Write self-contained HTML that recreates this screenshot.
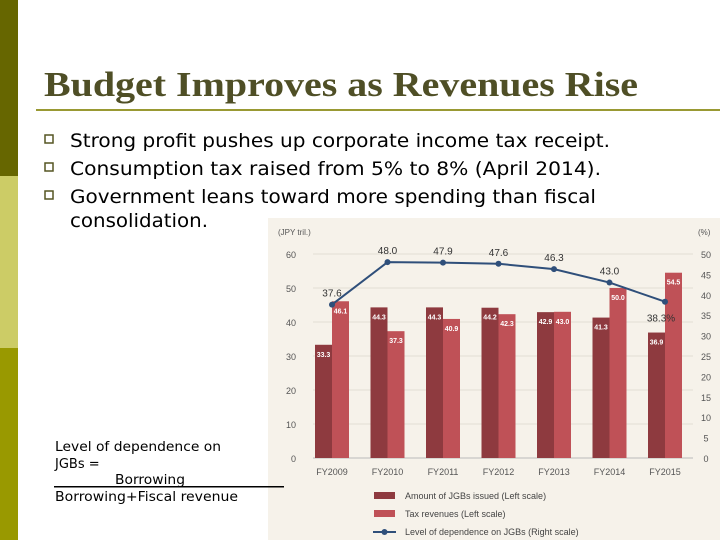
<!DOCTYPE html>
<html><head><meta charset="utf-8"><style>
html,body{margin:0;padding:0;background:#fff}
svg{display:block}
text{font-family:"Liberation Sans",sans-serif}
</style></head><body>
<svg id="s" width="720" height="540" viewBox="0 0 720 540" xmlns="http://www.w3.org/2000/svg">
<rect x="0" y="0" width="18" height="176" fill="#666600"/>
<rect x="0" y="176" width="18" height="172" fill="#cccc66"/>
<rect x="0" y="348" width="18" height="192" fill="#999900"/>
<text x="44" y="96" font-size="35" font-weight="bold" fill="#4f4f26" style="font-family:'Liberation Serif',serif" textLength="594" lengthAdjust="spacingAndGlyphs">Budget Improves as Revenues Rise</text>
<rect x="36" y="109" width="684" height="2" fill="#999933"/>
<g font-size="19" fill="#000" style="font-family:'DejaVu Sans',sans-serif">
<rect x="45" y="135" width="8" height="8" fill="none" stroke="#555522" stroke-width="1.5"/>
<text x="70" y="147" textLength="540" lengthAdjust="spacingAndGlyphs" style="font-family:'DejaVu Sans',sans-serif">Strong profit pushes up corporate income tax receipt.</text>
<rect x="45" y="163" width="8" height="8" fill="none" stroke="#555522" stroke-width="1.5"/>
<text x="70" y="175" textLength="531" lengthAdjust="spacingAndGlyphs" style="font-family:'DejaVu Sans',sans-serif">Consumption tax raised from 5% to 8% (April 2014).</text>
<rect x="45" y="191" width="8" height="8" fill="none" stroke="#555522" stroke-width="1.5"/>
<text x="70" y="203" textLength="526" lengthAdjust="spacingAndGlyphs" style="font-family:'DejaVu Sans',sans-serif">Government leans toward more spending than fiscal</text>
<text x="70" y="227" style="font-family:'DejaVu Sans',sans-serif" textLength="138" lengthAdjust="spacingAndGlyphs">consolidation.</text>
</g>
<rect x="268" y="218" width="452" height="322" fill="#f6f2ea"/>
<g font-size="13" fill="#000">
<text x="55" y="451" textLength="166" lengthAdjust="spacingAndGlyphs" style="font-family:'DejaVu Sans',sans-serif">Level of dependence on</text>
<text x="55" y="468" style="font-family:'DejaVu Sans',sans-serif">JGBs =</text>
<text x="115" y="484" textLength="70" lengthAdjust="spacingAndGlyphs" style="font-family:'DejaVu Sans',sans-serif">Borrowing</text>
<rect x="54" y="486" width="230" height="1.5" fill="#000"/>
<text x="55" y="501" textLength="183" lengthAdjust="spacingAndGlyphs" style="font-family:'DejaVu Sans',sans-serif">Borrowing+Fiscal revenue</text>
</g>
<g id="chart"></g>
</svg>
<script>
const categories=["FY2009","FY2010","FY2011","FY2012","FY2013","FY2014","FY2015"];
const jgbIssued=[33.3,44.3,44.3,44.2,42.9,41.3,36.9];
const taxRevenues=[46.1,37.3,40.9,42.3,43.0,50.0,54.5];
const dependence=[37.6,48.0,47.9,47.6,46.3,43.0,38.3];
const leftTicks=[0,10,20,30,40,50,60];
const rightTicks=[0,5,10,15,20,25,30,35,40,45,50];
const NS="http://www.w3.org/2000/svg";
const g=document.getElementById("chart");
const y0=458,yTop=254,xL=313,xR=693;
const yL=v=>y0-(v/60)*(y0-yTop);
const yR=v=>y0-(v/50)*(y0-yTop);
const step=(665-332)/6;
const xC=i=>332+i*step;
function el(tag,attrs,txt){const e=document.createElementNS(NS,tag);for(const k in attrs)e.setAttribute(k,attrs[k]);if(txt!==undefined)e.textContent=txt;g.appendChild(e);return e;}
leftTicks.forEach(t=>{
 const l=el("line",{x1:xL,x2:xR,y1:yL(t),y2:yL(t),stroke:t===0?"#bbb":"#e2ddd4","stroke-width":1});
 
 
 const tx=el("text",{x:296,y:yL(t)+4,"font-size":9,fill:"#555","text-anchor":"end"},t);
 
 
});
rightTicks.forEach(t=>{
 const tx=el("text",{x:706,y:yR(t)+4,"font-size":9,fill:"#555","text-anchor":"middle"},t);
 
 
});
let a=el("text",{x:278,y:235,"font-size":8,fill:"#555"},"(JPY tril.)");


a=el("text",{x:698,y:235,"font-size":8,fill:"#555"},"(%)");


const bw=17;
categories.forEach((c,i)=>{
 const cx=xC(i);
 const b1=el("rect",{x:cx-bw,y:yL(jgbIssued[i]),width:bw,height:y0-yL(jgbIssued[i]),fill:"#8e3a3f"});
 
 
 const b2=el("rect",{x:cx,y:yL(taxRevenues[i]),width:bw,height:y0-yL(taxRevenues[i]),fill:"#bf5157"});
 
 
 const t1=el("text",{x:cx-bw/2,y:yL(jgbIssued[i])+12,"font-size":7,"font-weight":"bold",fill:"#fff","text-anchor":"middle"},jgbIssued[i].toFixed(1));
 
 
 const t2=el("text",{x:cx+bw/2,y:yL(taxRevenues[i])+12,"font-size":7,"font-weight":"bold",fill:"#fff","text-anchor":"middle"},taxRevenues[i].toFixed(1));
 
 
 const xl=el("text",{x:cx,y:475,"font-size":9,fill:"#555","text-anchor":"middle"},c);
 
 
});
const pts=dependence.map((v,i)=>xC(i)+","+yR(v)).join(" ");
const pl=el("polyline",{points:pts,fill:"none",stroke:"#2f4f7a","stroke-width":2});


dependence.forEach((v,i)=>{
 const p=el("circle",{cx:xC(i),cy:yR(v),r:3,fill:"#2f4f7a"});
 
 
 const last=i===dependence.length-1;
 const t=el("text",{x:last?xC(i)-4:xC(i),y:last?yR(v)+20:yR(v)-8,"font-size":10,fill:"#333","text-anchor":"middle"},v.toFixed(1)+(last?"%":""));
 
 
});
const leg=[["rect","#8e3a3f","Amount of JGBs issued (Left scale)",495],["rect","#bf5157","Tax revenues (Left scale)",513],["line","#2f4f7a","Level of dependence on JGBs (Right scale)",531]];
leg.forEach(L=>{
 if(L[0]==="rect"){const r=el("rect",{x:374,y:L[3]-3,width:21,height:7,fill:L[1]});}
 else{const ln=el("line",{x1:373,x2:396,y1:L[3]+1,y2:L[3]+1,stroke:L[1],"stroke-width":2});
 const c=el("circle",{cx:384.5,cy:L[3]+1,r:3,fill:L[1]});}
 const t=el("text",{x:405,y:L[3]+4,"font-size":9,fill:"#444"},L[2]);
 
 
});
</script>
</body></html>
